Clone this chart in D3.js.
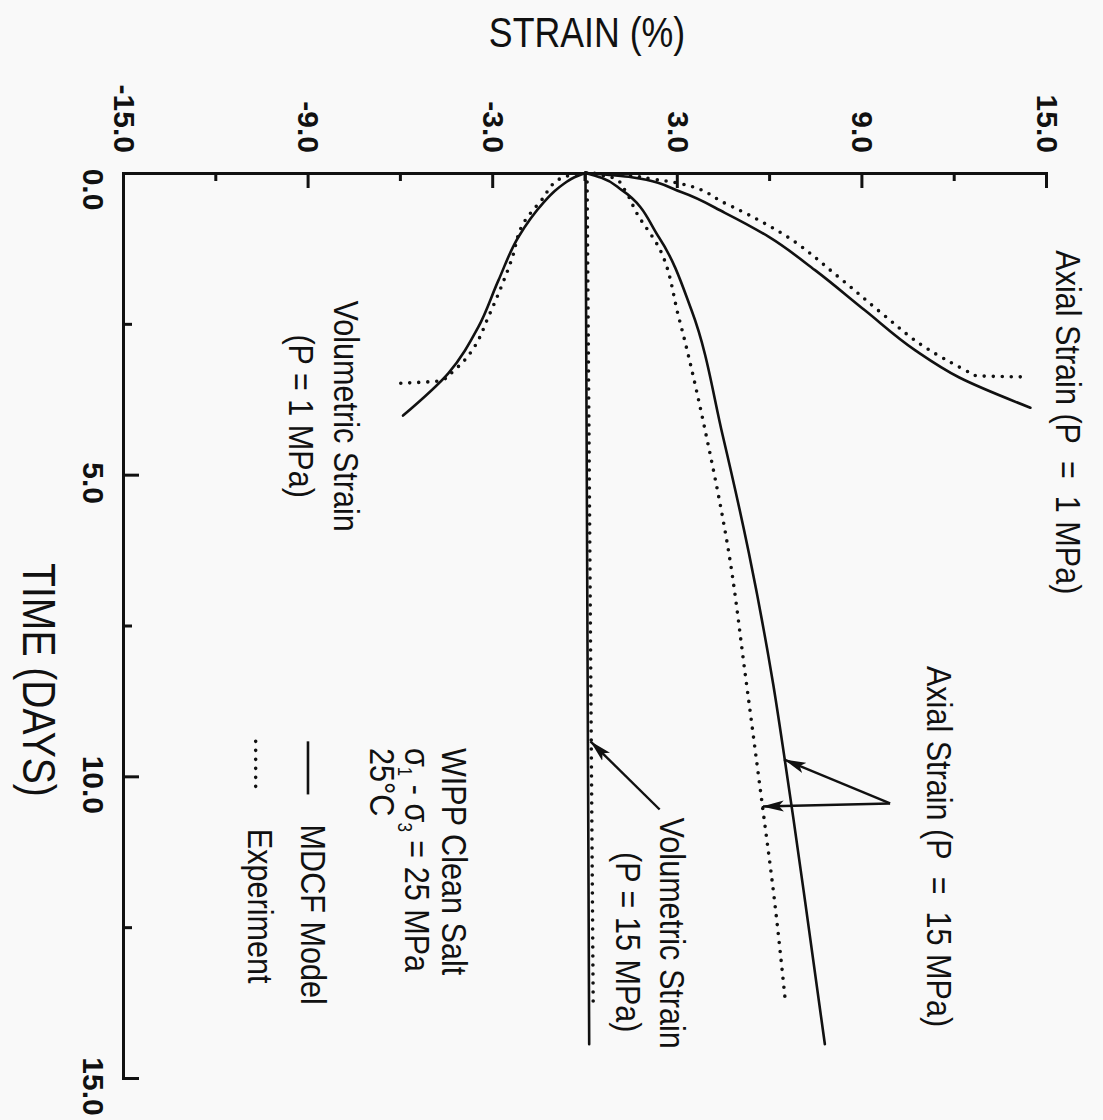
<!DOCTYPE html>
<html>
<head>
<meta charset="utf-8">
<script src="https://cdn.jsdelivr.net/npm/d3@7"></script>
<style>
  body { margin: 0; background: #f9f9f9; }
  svg { display: block; }
  .label { font-family: "Liberation Sans", Arial, sans-serif; }
  .tick text { font-family: "Liberation Sans", Arial, sans-serif; font-weight: bold; font-size: 30px; }
</style>
</head>
<body>
<div id="chart"></div>
<script>
// time in days, strain in percent
let axialP1ModelTime   = [0, 0.07, 0.32, 0.66, 1.06, 1.61, 2.28, 2.94, 3.39, 3.89];
let axialP1ModelStrain = [0, 1.5, 3.13, 4.53, 5.96, 7.46, 9.09, 10.72, 12.15, 14.46];

let axialP1ExpTime   = [0, 0.02, 0.10, 0.17, 0.50, 1.00, 1.73, 2.33, 2.89, 3.27, 3.36, 3.38];
let axialP1ExpStrain = [0, 0.85, 2.18, 3.03, 4.53, 6.38, 8.24, 9.64, 11.04, 12.35, 12.7, 14.3];

let axialP15ModelTime   = [0, 0.08, 0.28, 1.06, 2.28, 4.35, 6.30, 8.47, 9.70, 10.71, 12.08, 14.44];
let axialP15ModelStrain = [0, 0.52, 1.17, 2.38, 3.45, 4.46, 5.31, 6.10, 6.47, 6.76, 7.14, 7.78];

let axialP15ExpTime   = [0, 0.10, 0.30, 0.66, 1.23, 2.39, 4.39, 6.30, 8.34, 10.45, 11.96, 13.75];
let axialP15ExpStrain = [0, 1.00, 1.30, 1.66, 2.38, 3.03, 3.94, 4.66, 5.20, 5.74, 6.12, 6.50];

let volP15ModelTime   = [0, 14.44];
let volP15ModelStrain = [0, 0.12];

let volP15ExpTime   = [0, 13.75];
let volP15ExpStrain = [0.05, 0.25];

let volP1ModelTime   = [0, 0.07, 0.17, 0.30, 0.50, 1.06, 1.78, 2.56, 3.32, 4.02];
let volP1ModelStrain = [0, -0.36, -0.68, -1.0, -1.38, -2.18, -2.83, -3.49, -4.46, -5.93];

let volP1ExpTime   = [0, 0.08, 0.45, 0.81, 1.45, 1.89, 2.39, 2.89, 3.11, 3.27, 3.44, 3.49];
let volP1ExpStrain = [0, -0.78, -1.43, -1.99, -2.41, -2.74, -3.16, -3.62, -3.94, -4.27, -4.69, -6.22];

let timeMajor = [0, 5, 10, 15];
let timeMinor = [2.5, 7.5, 12.5];
let strainMajor = [-15, -9, -3, 3, 9, 15];
let strainMinor = [-12, -6, 0, 6, 12];

let series = [
  {t: axialP1ModelTime,  s: axialP1ModelStrain,  dotted: false},
  {t: axialP1ExpTime,    s: axialP1ExpStrain,    dotted: true},
  {t: axialP15ModelTime, s: axialP15ModelStrain, dotted: false},
  {t: axialP15ExpTime,   s: axialP15ExpStrain,   dotted: true},
  {t: volP15ModelTime,   s: volP15ModelStrain,   dotted: false},
  {t: volP15ExpTime,     s: volP15ExpStrain,     dotted: true},
  {t: volP1ModelTime,    s: volP1ModelStrain,    dotted: false},
  {t: volP1ExpTime,      s: volP1ExpStrain,      dotted: true}
];

// the plot is drawn landscape and turned a quarter clockwise, like the scan
let W = 905, H = 923;
let ink = "#111";
let squeeze = 0.85; // condensed lettering

let svg = d3.select("#chart").append("svg")
  .attr("width", 1103)
  .attr("height", 1120);

svg.append("rect")
  .attr("width", 1103)
  .attr("height", 1120)
  .attr("fill", "#f9f9f9");

svg.append("defs").append("marker")
  .attr("id", "head")
  .attr("markerUnits", "userSpaceOnUse")
  .attr("markerWidth", 24)
  .attr("markerHeight", 12)
  .attr("refX", 22)
  .attr("refY", 6)
  .attr("orient", "auto")
  .append("path")
  .attr("d", "M0,0.5 L22,6 L0,11.5 L5,6 Z")
  .attr("fill", ink);

let g = svg.append("g").attr("transform", "translate(1047,173) rotate(90)");

let x = d3.scaleLinear().domain([0, 15]).range([0, W]);
let y = d3.scaleLinear().domain([-15, 15]).range([H, 0]);

// condensed text put at (px, py) of a parent group
let label = (parent, px, py, size, anchor) => parent.append("text")
  .attr("class", "label")
  .attr("transform", `translate(${px},${py}) scale(${squeeze},1)`)
  .attr("text-anchor", anchor)
  .attr("font-size", size)
  .attr("fill", ink);

// axes
let timeAxis = g.append("g")
  .attr("transform", `translate(0,${H})`)
  .style("color", ink)
  .call(d3.axisBottom(x).tickValues(timeMajor).tickSize(-15).tickSizeOuter(-15)
    .tickPadding(20).tickFormat(d => d.toFixed(1)));
timeAxis.selectAll(".tick text").attr("dx", d => d == 0 ? 16 : 8);

g.append("g")
  .attr("transform", `translate(0,${H})`)
  .style("color", ink)
  .call(d3.axisBottom(x).tickValues(timeMinor).tickSize(-8).tickFormat(""))
  .call(a => a.select(".domain").remove());

g.append("g")
  .style("color", ink)
  .call(d3.axisLeft(y).tickValues(strainMajor).tickSize(-15).tickSizeOuter(-15)
    .tickPadding(20).tickFormat(d => d.toFixed(1)));

g.append("g")
  .style("color", ink)
  .call(d3.axisLeft(y).tickValues(strainMinor).tickSize(-8).tickFormat(""))
  .call(a => a.select(".domain").remove());

g.selectAll(".domain, .tick line").attr("stroke-width", 3);

// curves
let line = d3.line()
  .x(d => x(d[0]))
  .y(d => y(d[1]))
  .curve(d3.curveMonotoneX);

series.forEach(sr => {
  g.append("path")
    .datum(d3.zip(sr.t, sr.s))
    .attr("d", line)
    .attr("fill", "none")
    .attr("stroke", ink)
    .attr("stroke-width", sr.dotted ? 3.6 : 2.6)
    .attr("stroke-dasharray", sr.dotted ? "0 9" : null)
    .attr("stroke-linecap", "round");
});

// arrows [from t, from s, to t, to s]
let arrows = [
  [10.45, 9.9, 9.72, 6.45],
  [10.45, 9.9, 10.5, 5.73],
  [10.55, 2.41, 9.42, 0.16]
];
arrows.forEach(a => {
  g.append("line")
    .attr("x1", x(a[0])).attr("y1", y(a[1]))
    .attr("x2", x(a[2])).attr("y2", y(a[3]))
    .attr("stroke", ink)
    .attr("stroke-width", 2.4)
    .attr("marker-end", "url(#head)");
});

// annotations, placed at time / strain (baseline)
let notes = [
  {text: "Axial Strain (P\u00a0 =\u00a0 1 MPa)", t: 1.28, s: 15.28, anchor: "start"},
  {text: "Axial Strain (P\u00a0 =\u00a0 15 MPa)", t: 8.17, s: 11.1, anchor: "start"},
  {text: "Volumetric Strain", t: 4.03, s: -8.18, anchor: "middle"},
  {text: "(P = 1 MPa)", t: 4.03, s: -9.64, anchor: "middle"},
  {text: "Volumetric Strain", t: 12.6, s: 2.41, anchor: "middle"},
  {text: "(P = 15 MPa)", t: 12.75, s: 0.98, anchor: "middle"},
  {text: "WIPP Clean Salt", t: 9.53, s: -4.66, anchor: "start"},
  {text: "25°C", t: 9.53, s: -7.0, anchor: "start"},
  {text: "MDCF Model", t: 10.8, s: -9.25, anchor: "start"},
  {text: "Experiment", t: 10.87, s: -10.98, anchor: "start"}
];
notes.forEach(n => {
  label(g, x(n.t), y(n.s), 36, n.anchor).text(n.text);
});

// sigma line with subscripts
let sig = label(g, x(9.53), y(-5.86), 36, "start");
sig.append("tspan").text("σ");
sig.append("tspan").attr("dy", 7).attr("font-size", 20).text("1");
sig.append("tspan").attr("dy", -7).text(" - σ");
sig.append("tspan").attr("dy", 7).attr("font-size", 20).text("3");
sig.append("tspan").attr("dy", -7).text(" = 25 MPa");

// legend samples
g.append("line")
  .attr("x1", x(9.42)).attr("x2", x(10.3))
  .attr("y1", y(-9.02)).attr("y2", y(-9.02))
  .attr("stroke", ink).attr("stroke-width", 2.6);
g.append("line")
  .attr("x1", x(9.42)).attr("x2", x(10.2))
  .attr("y1", y(-10.72)).attr("y2", y(-10.72))
  .attr("stroke", ink).attr("stroke-width", 3.6)
  .attr("stroke-dasharray", "0 9").attr("stroke-linecap", "round");

// axis titles
label(g, 507, H + 101, 46, "middle").text("TIME (DAYS)");
label(svg, 587, 47, 42, "middle").text("STRAIN (%)");
</script>
</body>
</html>
